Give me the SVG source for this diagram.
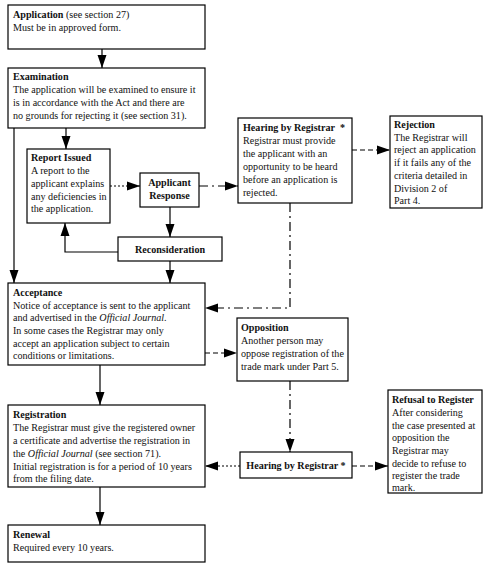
<svg xmlns="http://www.w3.org/2000/svg" width="494" height="569" viewBox="0 0 494 569">
<defs>
<marker id="ah" markerUnits="userSpaceOnUse" markerWidth="14" markerHeight="10" refX="13" refY="5" orient="auto">
<path d="M0,0.5 L13,5 L0,9.5 Z" fill="#000"/>
</marker>
<style>
rect.box{fill:#fff;stroke:#000;stroke-width:1.2}
text{font-family:"Liberation Serif","Times New Roman",serif;font-size:10.1px;fill:#111}
.b{font-weight:bold}
.c{text-anchor:middle}
.ln{fill:none;stroke:#000;stroke-width:1.2}
.arr{marker-end:url(#ah)}
.dot{stroke-dasharray:2,2}
.dash{stroke-dasharray:5,3}
.dd{stroke-dasharray:9,4,2,4}
</style>
</defs>
<rect width="494" height="569" fill="#fff"/>
<g id="connectors">
<line class="ln arr" x1="102" y1="49" x2="102" y2="68"/>
<line class="ln arr" x1="66" y1="128" x2="66" y2="149"/>
<line class="ln arr" x1="14" y1="128" x2="14" y2="283"/>
<line class="ln arr dot" x1="110" y1="186" x2="140" y2="186"/>
<line class="ln arr dd" x1="199" y1="186" x2="238" y2="186"/>
<line class="ln arr" x1="170" y1="207" x2="170" y2="237"/>
<polyline class="ln arr" points="118,252 65,252 65,223"/>
<line class="ln arr" x1="170" y1="261" x2="170" y2="283"/>
<line class="ln arr dash" x1="352" y1="150" x2="390" y2="150"/>
<polyline class="ln arr dd" points="290,203 290,308 205,308"/>
<line class="ln arr dash" x1="205" y1="353" x2="237" y2="353"/>
<line class="ln arr" x1="100" y1="365" x2="100" y2="405"/>
<line class="ln arr dd" x1="290" y1="381" x2="290" y2="452"/>
<line class="ln arr dot" x1="240" y1="466" x2="205" y2="466"/>
<line class="ln arr dash" x1="352" y1="466" x2="388" y2="466"/>
<line class="ln arr" x1="100" y1="487" x2="100" y2="525"/>
</g>
<g id="application">
<rect class="box" x="8" y="5" width="197" height="44"/>
<text x="13" y="18"><tspan class="b">Application</tspan> (see section 27)</text>
<text x="13" y="31">Must be in approved form.</text>
</g>
<g id="examination">
<rect class="box" x="8" y="68" width="197" height="60"/>
<text x="13" y="80" class="b">Examination</text>
<text x="13" y="93">The application will be examined to ensure it</text>
<text x="13" y="106">is in accordance with the Act and there are</text>
<text x="13" y="119">no grounds for rejecting it (see section 31).</text>
</g>
<g id="report-issued">
<rect class="box" x="27" y="149" width="83" height="74"/>
<text x="31" y="161" class="b">Report Issued</text>
<text x="31" y="174">A report to the</text>
<text x="31" y="187">applicant explains</text>
<text x="31" y="200">any deficiencies in</text>
<text x="31" y="212">the application.</text>
</g>
<g id="applicant-response">
<rect class="box" x="140" y="173" width="59" height="34"/>
<text x="169.5" y="186" class="b c">Applicant</text>
<text x="169.5" y="199" class="b c">Response</text>
</g>
<g id="reconsideration">
<rect class="box" x="118" y="237" width="104" height="24"/>
<text x="170" y="253" class="b c">Reconsideration</text>
</g>
<g id="hearing-1">
<rect class="box" x="238" y="118" width="114" height="85"/>
<text x="243" y="131" class="b">Hearing by Registrar</text>
<text x="340" y="131" class="b">*</text>
<text x="243" y="144">Registrar must provide</text>
<text x="243" y="157">the applicant with an</text>
<text x="243" y="170">opportunity to be heard</text>
<text x="243" y="183">before an application is</text>
<text x="243" y="196">rejected.</text>
</g>
<g id="rejection">
<rect class="box" x="390" y="116" width="92" height="92"/>
<text x="394" y="128" class="b">Rejection</text>
<text x="394" y="141">The Registrar will</text>
<text x="394" y="153">reject an application</text>
<text x="394" y="166">if it fails any of the</text>
<text x="394" y="179">criteria detailed in</text>
<text x="394" y="192">Division 2 of</text>
<text x="394" y="204">Part 4.</text>
</g>
<g id="acceptance">
<rect class="box" x="8" y="283" width="197" height="82"/>
<text x="13" y="296" class="b">Acceptance</text>
<text x="13" y="309">Notice of acceptance is sent to the applicant</text>
<text x="13" y="321">and advertised in the <tspan font-style="italic">Official Journal</tspan>.</text>
<text x="13" y="334">In some cases the Registrar may only</text>
<text x="13" y="347">accept an application subject to certain</text>
<text x="13" y="359">conditions or limitations.</text>
</g>
<g id="opposition">
<rect class="box" x="237" y="318" width="111" height="63"/>
<text x="241" y="331" class="b">Opposition</text>
<text x="241" y="344">Another person may</text>
<text x="241" y="357">oppose registration of the</text>
<text x="241" y="370">trade mark under Part 5.</text>
</g>
<g id="registration">
<rect class="box" x="8" y="405" width="197" height="82"/>
<text x="13" y="418" class="b">Registration</text>
<text x="13" y="431">The Registrar must give the registered owner</text>
<text x="13" y="444">a certificate and advertise the registration in</text>
<text x="13" y="457">the <tspan font-style="italic">Official Journal</tspan> (see section 71).</text>
<text x="13" y="470">Initial registration is for a period of 10 years</text>
<text x="13" y="482">from the filing date.</text>
</g>
<g id="hearing-2">
<rect class="box" x="240" y="452" width="112" height="26"/>
<text x="296" y="469" class="b c">Hearing by Registrar *</text>
</g>
<g id="refusal">
<rect class="box" x="388" y="390" width="94" height="103"/>
<text x="392" y="403" class="b">Refusal to Register</text>
<text x="392" y="416">After considering</text>
<text x="392" y="429">the case presented at</text>
<text x="392" y="441">opposition the</text>
<text x="392" y="454">Registrar may</text>
<text x="392" y="467">decide to refuse to</text>
<text x="392" y="479">register the trade</text>
<text x="392" y="491">mark.</text>
</g>
<g id="renewal">
<rect class="box" x="8" y="525" width="197" height="37"/>
<text x="13" y="538" class="b">Renewal</text>
<text x="13" y="551">Required every 10 years.</text>
</g>
</svg>
